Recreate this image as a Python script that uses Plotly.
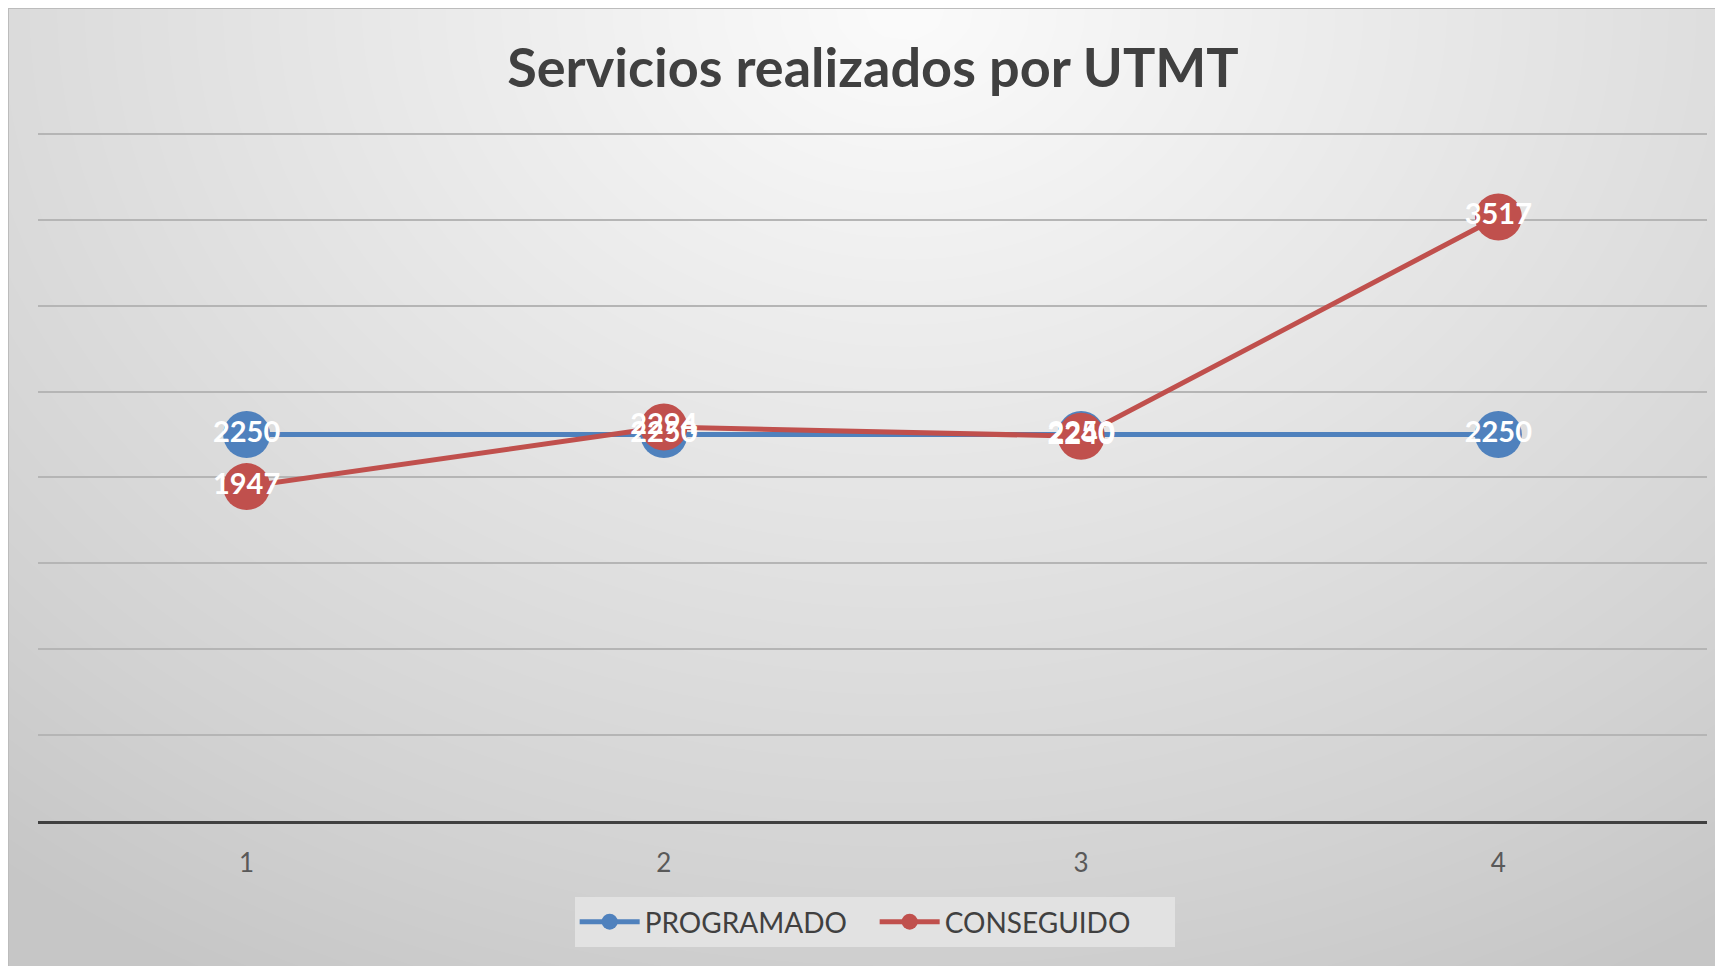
import numpy as np
import plotly.graph_objects as go

categories = ["1", "2", "3", "4"]
programado = [2250, 2250, 2250, 2250]
conseguido = [1947, 2294, 2240, 3517]

W, H = 1723, 966
OFF = 8  # page body margin
BLUE = "#4f81bd"
RED = "#c0504d"
FONT = "Lato"

fig = go.Figure()

# decorative background gradient on the first subplot spanning the chart area
gx = np.linspace(-0.03, 1.03, 64)
gy = np.linspace(-0.03, 1.03, 44)
X, Y = np.meshgrid(gx, gy)
D = np.sqrt(((X - 0.52) / 0.75) ** 2 + ((Y - 1.0) / 1.05) ** 2)
fig.add_trace(go.Heatmap(
    x=gx, y=gy, z=D, zsmooth="best", showscale=False, hoverinfo="skip",
    colorscale=[[0, "#fbfbfb"], [0.45, "#e4e4e4"], [0.8, "#d2d2d2"], [1, "#c6c6c6"]],
    zmin=0, zmax=1.1, xaxis="x", yaxis="y"))

fig.add_trace(go.Scatter(
    x=categories, y=programado, name="PROGRAMADO", mode="lines+markers",
    line=dict(color=BLUE, width=5), marker=dict(color=BLUE, size=47),
    xaxis="x2", yaxis="y2"))
fig.add_trace(go.Scatter(
    x=categories, y=conseguido, name="CONSEGUIDO", mode="lines+markers",
    line=dict(color=RED, width=5), marker=dict(color=RED, size=47),
    xaxis="x2", yaxis="y2"))
for vals in (programado, conseguido):
    fig.add_trace(go.Scatter(
        x=categories, y=vals, mode="text", text=[str(v) for v in vals],
        textposition="middle center", showlegend=False, hoverinfo="skip",
        textfont=dict(family=FONT, size=29, color="white", weight="bold"),
        xaxis="x2", yaxis="y2"))

YMAX = 4030
top_px = (134 - OFF) - (YMAX - 4000) / 4000 * (821 - 134)

fig.update_layout(
    width=W, height=H,
    margin=dict(l=0, r=0, t=0, b=0),
    paper_bgcolor="white",
    plot_bgcolor="rgba(0,0,0,0)",
    title=dict(text="<b>Servicios realizados por UTMT</b>", x=0.502, xanchor="center",
               y=1 - (68 - OFF) / H, yanchor="middle",
               font=dict(family=FONT, size=54, color="#404040")),
    xaxis=dict(domain=[0, 1], range=[0, 1], visible=False, fixedrange=True),
    yaxis=dict(domain=[0, 1], range=[0, 1], visible=False, fixedrange=True),
    xaxis2=dict(domain=[(38 - OFF) / W, (1707 - OFF) / W], anchor="y2", type="category",
                range=[-0.5, 3.5], showgrid=False, ticks="", showline=True,
                linecolor="#404040", linewidth=3, ticklabelstandoff=17,
                tickfont=dict(family=FONT, size=26, color="#595959")),
    yaxis2=dict(domain=[1 - (821 - OFF) / H, 1 - top_px / H], anchor="x2",
                range=[0, YMAX], dtick=500, showgrid=True, gridcolor="#b5b5b5",
                gridwidth=1.5, showticklabels=False, zeroline=False, showline=False,
                ticks=""),
    showlegend=True,
    legend=dict(orientation="h", x=0.503, xanchor="center", y=1 - (922 - OFF) / H,
                yanchor="middle", bgcolor="#e2e2e2",
                font=dict(family=FONT, size=28, color="#404040"),
                itemwidth=60, entrywidth=225, tracegroupgap=0),
    shapes=[dict(type="rect", xref="paper", yref="paper", x0=0, x1=1, y0=0, y1=1,
                 line=dict(color="#bcbcbc", width=2), layer="above")],
)

fig.write_html("out.html")
